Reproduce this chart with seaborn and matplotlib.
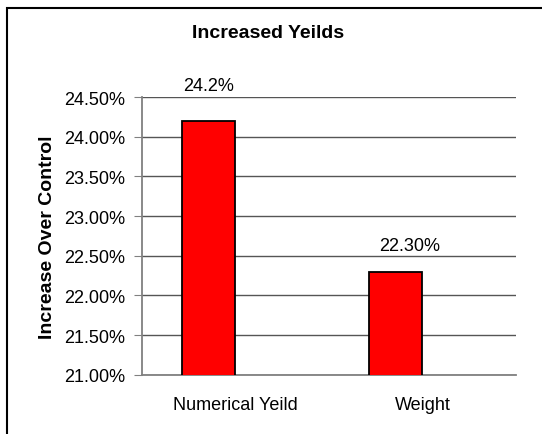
import pandas as pd
import seaborn as sns
import matplotlib.pyplot as plt
from matplotlib.patches import Rectangle
from matplotlib.ticker import FuncFormatter

# Données
categories = ["Numerical Yeild", "Weight"]
valeurs = [24.2, 22.3]
etiquettes = ["24.2%", "22.30%"]
series = ["Serie 1", "Serie 2"]  # la 2e série est vide (décalage à la Excel)

df = pd.DataFrame({"categorie": categories, "valeur": valeurs, "serie": series[0]})

sns.set_style("white")
plt.rcParams["font.family"] = ["Liberation Sans", "DejaVu Sans"]
plt.rcParams["text.color"] = "black"
plt.rcParams["xtick.color"] = "black"
plt.rcParams["ytick.color"] = "black"
plt.rcParams["axes.labelcolor"] = "black"

fig = plt.figure(figsize=(5.42, 4.35), dpi=100)
ax = fig.add_axes([0.262, 0.1363, 0.690, 0.6384])

sns.barplot(data=df, x="categorie", y="valeur", hue="serie", hue_order=series,
            palette={series[0]: "#ff0000", series[1]: "#ff0000"}, width=0.571,
            dodge=True, edgecolor="black", linewidth=1.3, saturation=1,
            legend=False, ax=ax, zorder=3)

ax.set_ylim(21, 24.5)
ax.set_yticks([21 + 0.5 * i for i in range(8)])
ax.yaxis.set_major_formatter(FuncFormatter(lambda v, p: f"{v:.2f}%"))
ax.yaxis.grid(True, color="#555555", linewidth=1)
ax.set_axisbelow(True)

# Etiquettes au-dessus des barres (décalages comme dans Excel)
textes = ax.bar_label(ax.containers[0], labels=etiquettes, padding=12, fontsize=13)
textes[0].xyann = (0, 19)
textes[1].xyann = (10, 13)

for s in ["top", "right"]:
    ax.spines[s].set_visible(False)
for s in ["left", "bottom"]:
    ax.spines[s].set_color("#808080")
    ax.spines[s].set_linewidth(1.3)

# Graduations de l'axe x aux bornes des catégories
ax.set_xticks([0, 1])
ax.set_xticks([-0.5, 0.5, 1.5], minor=True)
ax.tick_params(axis="x", which="major", length=0, labelsize=13, pad=15)
ax.tick_params(axis="x", which="minor", length=5, color="#808080", direction="out")
ax.tick_params(axis="y", length=6, color="#808080", labelcolor="black",
               direction="out", labelsize=13, left=True, pad=6)
ax.set_xlim(-0.5, 1.5)

ax.set_xlabel("")
ax.set_ylabel("Increase Over Control", fontsize=14, fontweight="bold", labelpad=6)
fig.text(0.494, 0.922, "Increased Yeilds", ha="center", va="center",
         fontsize=14, fontweight="bold")

# Cadre extérieur
fig.patches.append(Rectangle((7 / 542, -0.05), 1.1, 1 - 9 / 435 + 0.05,
                             transform=fig.transFigure, fill=False,
                             edgecolor="black", linewidth=1.5))

plt.savefig("out.png", dpi=100)
plt.close()
